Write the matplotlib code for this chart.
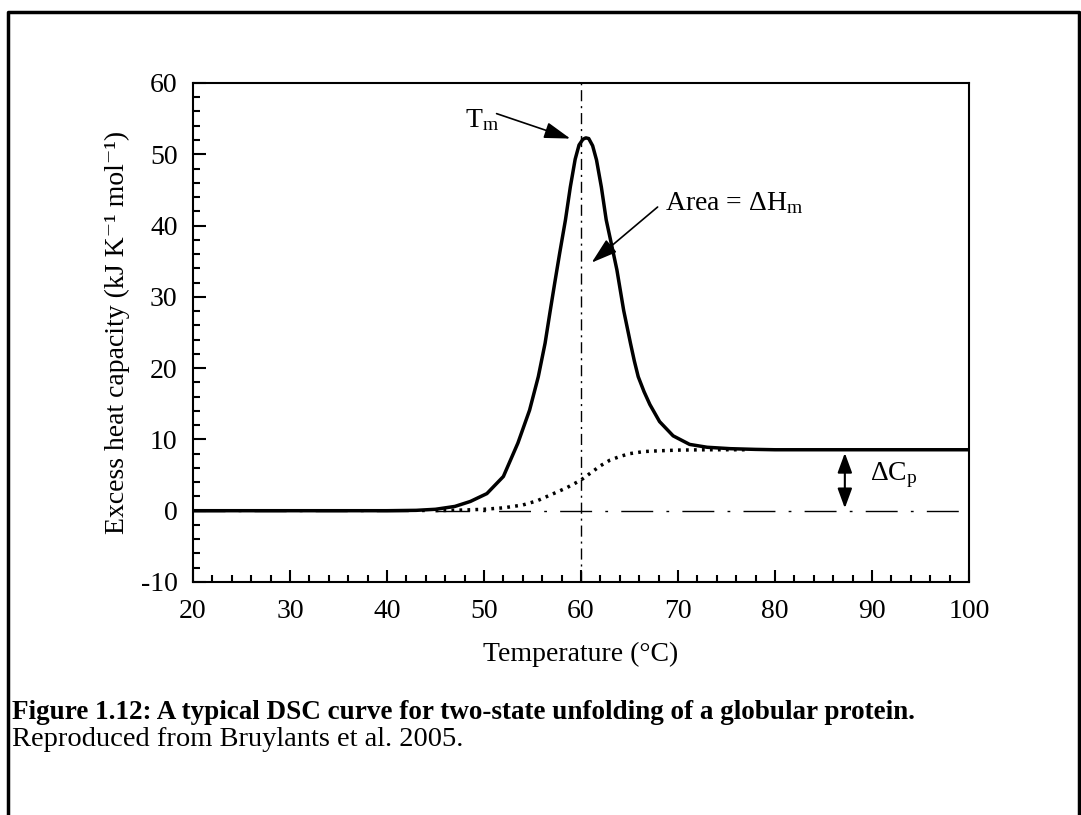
import matplotlib
matplotlib.use("Agg")
import matplotlib.pyplot as plt
from matplotlib.lines import Line2D
from matplotlib.ticker import MultipleLocator

plt.rcParams["font.family"] = ["Liberation Serif", "DejaVu Serif"]
plt.rcParams["mathtext.fontset"] = "custom"
plt.rcParams["mathtext.rm"] = "Liberation Serif"
plt.rcParams["mathtext.it"] = "Liberation Serif:italic"
plt.rcParams["mathtext.bf"] = "Liberation Serif:bold"
plt.rcParams["axes.unicode_minus"] = False

# DSC trace
temp = [20, 30, 40, 43, 45, 47, 48.6, 50.3, 52.0, 53.5, 54.7, 55.6, 56.3, 56.8,
        57.3, 57.8, 58.4, 58.9, 59.4, 59.8, 60.2, 60.5, 60.8, 61.2, 61.6, 62.1,
        62.6, 63.2, 63.7, 64.4, 65.1, 65.5, 65.9, 66.5, 67.1, 68.1, 69.5, 71.2,
        73.0, 75.4, 78, 80, 100]
cp = [0, 0, 0, 0.05, 0.2, 0.6, 1.3, 2.4, 4.8, 9.5, 14.1, 18.8, 23.5, 27.8,
      32.0, 36.1, 40.8, 45.4, 49.3, 51.3, 52.1, 52.3, 52.2, 51.2, 49.2, 45.4,
      40.8, 37.0, 33.8, 28.1, 23.5, 21.0, 18.8, 16.7, 14.9, 12.5, 10.5, 9.3,
      8.9, 8.7, 8.6, 8.55, 8.55]

# progress baseline (dotted)
temp_base = [45, 48, 50, 52, 54, 55.5, 57, 58.5, 60, 61, 62, 63, 64, 65,
             66.5, 68, 70, 73, 77]
cp_base = [0, 0.1, 0.2, 0.4, 0.8, 1.4, 2.3, 3.2, 4.3, 5.3, 6.3, 7.1, 7.6,
           8.0, 8.3, 8.4, 8.5, 8.55, 8.55]

tm = 60
dcp_temp = 87.2
dcp_low, dcp_high = 0.35, 8.1

fig = plt.figure(figsize=(10.81, 8.15), dpi=100)
ax = fig.add_axes([0.1785, 0.2859, 0.7179, 0.6123])

ax.axhline(0, color="black", lw=1, ls=(0, (23, 9.5, 2, 9.5)))
ax.axvline(tm, color="black", lw=1, ls=(0, (8, 3.5, 1.5, 3.5)))
ax.plot(temp_base, cp_base, color="black", lw=2.5, ls=(0, (0.8, 1.5)))
ax.plot(temp, cp, color="black", lw=2.5)

# annotations
ax.annotate("", xy=(58.9, 52.2), xytext=(51.3, 55.7),
            arrowprops=dict(arrowstyle="-|>,head_length=0.8,head_width=0.25",
                            color="black", lw=1.2, mutation_scale=20,
                            shrinkA=0, shrinkB=0))
ax.text(48.0, 53.8, r"T$_{\rm m}$", fontsize=20, ha="left", va="baseline")

ax.annotate("", xy=(61.1, 34.8), xytext=(67.9, 42.6),
            arrowprops=dict(arrowstyle="-|>,head_length=0.8,head_width=0.25",
                            color="black", lw=1.2, mutation_scale=20,
                            shrinkA=0, shrinkB=0))
ax.text(68.66, 42.15, r"Area = $\Delta$H$_{\rm m}$", fontsize=20,
        ha="left", va="baseline")

ax.annotate("", xy=(dcp_temp, dcp_high), xytext=(dcp_temp, dcp_low),
            arrowprops=dict(arrowstyle="<|-|>,head_length=0.6,head_width=0.22",
                            color="black", lw=1.5, mutation_scale=20,
                            shrinkA=0, shrinkB=0))
ax.text(89.8, 4.3, r"$\Delta$C$_{\rm p}$", fontsize=20, ha="left",
        va="baseline")

ax.set_xlim(20, 100)
ax.set_ylim(-10, 60)
ax.xaxis.set_major_locator(MultipleLocator(10))
ax.xaxis.set_minor_locator(MultipleLocator(2))
ax.yaxis.set_major_locator(MultipleLocator(10))
ax.yaxis.set_minor_locator(MultipleLocator(2))
ax.tick_params(which="both", direction="in", width=1.5, top=False,
               right=False, labelsize=20)
ax.tick_params(which="major", length=9)
ax.tick_params(which="minor", length=5)
ax.tick_params(axis="x", pad=12)
ax.tick_params(axis="y", pad=11)
for s in ax.spines.values():
    s.set_linewidth(1.5)

ax.set_xlabel("Temperature (\u00b0C)", fontsize=20, labelpad=13)
ax.set_ylabel("Excess heat capacity (kJ K\u207b\u00b9 mol\u207b\u00b9)",
              fontsize=20, labelpad=8)

# caption under the chart
fig.text(0.0111, 0.118, "Figure 1.12: A typical DSC curve for two-state "
         "unfolding of a globular protein.", fontsize=19.5, fontweight="bold",
         ha="left", va="baseline")
fig.text(0.0111, 0.085, "Reproduced from Bruylants et al. 2005.",
         fontsize=20.5, ha="left", va="baseline")

# page frame
fig.add_artist(Line2D([0.0074, 0.0074, 0.998, 0.998],
                      [0, 0.9853, 0.9853, 0], transform=fig.transFigure,
                      color="black", lw=2.5))

fig.savefig("out.png", dpi=100)
